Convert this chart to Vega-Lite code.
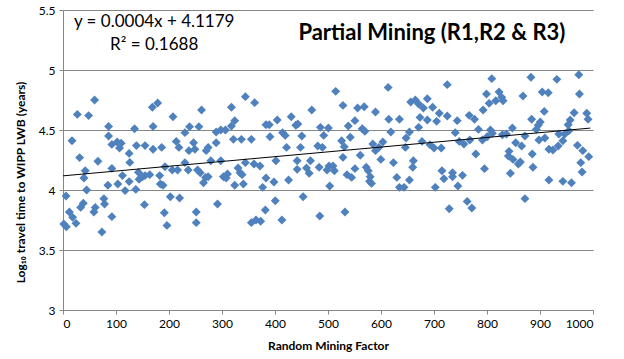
{
  "$schema": "https://vega.github.io/schema/vega-lite/v6.json",
  "width": 530,
  "height": 300,
  "autosize": {"type": "none"},
  "padding": {"left": 63, "top": 10, "right": 31, "bottom": 49},
  "background": "white",
  "config": {"view": {"stroke": null}, "font": "Lato"},
  "layer": [
    {
      "data": {"values": [
        {"x":59.6,"y":4.75},{"x":27,"y":4.63},{"x":48.3,"y":4.62},{"x":17,"y":4.41},{"x":86,"y":4.53},{"x":86,"y":4.45},{"x":135,"y":4.51},{"x":170,"y":4.53},{"x":168.6,"y":4.69},{"x":178.6,"y":4.725},{"x":207.5,"y":4.61},{"x":31.4,"y":4.27},{"x":65.9,"y":4.24},{"x":92.2,"y":4.38},{"x":102.2,"y":4.40},{"x":109.7,"y":4.39},{"x":106.6,"y":4.35},{"x":124.8,"y":4.305},{"x":126,"y":4.23},{"x":138.5,"y":4.37},{"x":154.8,"y":4.37},{"x":169.9,"y":4.34},{"x":186.2,"y":4.355},{"x":213.7,"y":4.405},{"x":218.7,"y":4.355},{"x":42,"y":4.16},{"x":39.5,"y":4.10},{"x":92.2,"y":4.18},{"x":112.2,"y":4.12},{"x":103.5,"y":4.05},{"x":84.7,"y":4.04},{"x":117.2,"y":3.995},{"x":124.8,"y":4.07},{"x":137.3,"y":4.005},{"x":143.6,"y":4.09},{"x":142.3,"y":4.147},{"x":149.8,"y":4.11},{"x":154.8,"y":4.12},{"x":163.6,"y":4.128},{"x":182.4,"y":4.12},{"x":183.7,"y":4.05},{"x":188.7,"y":4.04},{"x":192.4,"y":4.194},{"x":206.2,"y":4.166},{"x":216.2,"y":4.166},{"x":5.7,"y":3.95},{"x":44.6,"y":4.0},{"x":77.1,"y":3.928},{"x":78.4,"y":3.883},{"x":38.3,"y":3.89},{"x":33.3,"y":3.855},{"x":60.8,"y":3.855},{"x":58.3,"y":3.817},{"x":12,"y":3.817},{"x":18.2,"y":3.772},{"x":24.5,"y":3.722},{"x":1.5,"y":3.717},{"x":6.3,"y":3.694},{"x":92.2,"y":3.778},{"x":73.4,"y":3.65},{"x":153.6,"y":3.878},{"x":191.2,"y":3.811},{"x":196.2,"y":3.705},{"x":202.5,"y":3.944},{"x":220,"y":3.933},
        {"x":344.1,"y":4.778},{"x":361.6,"y":4.728},{"x":261.4,"y":4.667},{"x":317.8,"y":4.689},{"x":238.8,"y":4.528},{"x":256.4,"y":4.528},{"x":289,"y":4.483},{"x":297.7,"y":4.50},{"x":306.5,"y":4.50},{"x":317.8,"y":4.533},{"x":324,"y":4.578},{"x":321.5,"y":4.422},{"x":336.6,"y":4.422},{"x":355.4,"y":4.422},{"x":390.5,"y":4.444},{"x":383,"y":4.544},{"x":389.2,"y":4.544},{"x":404.2,"y":4.583},{"x":414.3,"y":4.478},{"x":419.3,"y":4.455},{"x":430.6,"y":4.611},{"x":439.3,"y":4.539},{"x":443.1,"y":4.55},{"x":450.6,"y":4.45},{"x":469.4,"y":4.667},{"x":485.7,"y":4.522},{"x":230,"y":4.478},{"x":237.6,"y":4.328},{"x":246.3,"y":4.394},{"x":248.9,"y":4.339},{"x":273.9,"y":4.355},{"x":270.2,"y":4.328},{"x":289,"y":4.394},{"x":421.8,"y":4.355},{"x":448.1,"y":4.355},{"x":480.7,"y":4.366},{"x":489.5,"y":4.355},{"x":230,"y":4.228},{"x":236.3,"y":4.166},{"x":253.9,"y":4.166},{"x":258.9,"y":4.144},{"x":268.9,"y":4.105},{"x":273.9,"y":4.111},{"x":265.1,"y":4.061},{"x":278.9,"y":4.244},{"x":297.7,"y":4.244},{"x":302.7,"y":4.111},{"x":310.3,"y":4.133},{"x":307.8,"y":4.10},{"x":330.3,"y":4.183},{"x":334.1,"y":4.144},{"x":337.8,"y":4.128},{"x":344.1,"y":4.228},{"x":360.4,"y":4.217},{"x":371.7,"y":4.20},{"x":401.7,"y":4.244},{"x":383,"y":4.10},{"x":376.7,"y":4.022},{"x":324,"y":4.039},{"x":340.3,"y":4.05},{"x":398,"y":4.066},{"x":425.6,"y":4.083},{"x":441.8,"y":4.244},{"x":441.8,"y":4.172},{"x":459.4,"y":4.183},{"x":464.4,"y":4.139},{"x":466.9,"y":4.244},{"x":483.2,"y":4.189},{"x":291.5,"y":3.883},{"x":251.4,"y":3.817},{"x":251.4,"y":3.728},{"x":355.4,"y":3.728},{"x":364.1,"y":3.75},{"x":372.9,"y":3.739},{"x":381.7,"y":3.833},{"x":400.5,"y":3.911},{"x":413,"y":3.75},{"x":453.1,"y":3.944},{"x":484.5,"y":3.783},
        {"x":514.5,"y":4.822},{"x":528.2,"y":4.705},{"x":555.8,"y":4.683},{"x":568.3,"y":4.694},{"x":589.6,"y":4.65},{"x":613.5,"y":4.855},{"x":614.7,"y":4.589},{"x":634.8,"y":4.589},{"x":618.5,"y":4.483},{"x":656.1,"y":4.733},{"x":664.8,"y":4.75},{"x":671.1,"y":4.717},{"x":679.9,"y":4.683},{"x":687.4,"y":4.761},{"x":697.4,"y":4.689},{"x":673.6,"y":4.605},{"x":687.4,"y":4.583},{"x":704.9,"y":4.572},{"x":709.9,"y":4.639},{"x":725,"y":4.616},{"x":725,"y":4.878},{"x":671.1,"y":4.522},{"x":500.7,"y":4.516},{"x":491.9,"y":4.455},{"x":538.3,"y":4.533},{"x":550.8,"y":4.578},{"x":542,"y":4.439},{"x":564.6,"y":4.511},{"x":569.6,"y":4.489},{"x":525.7,"y":4.411},{"x":530.7,"y":4.361},{"x":584.6,"y":4.383},{"x":603.4,"y":4.40},{"x":595.9,"y":4.355},{"x":589.6,"y":4.328},{"x":653.6,"y":4.483},{"x":647.3,"y":4.433},{"x":646,"y":4.355},{"x":677.4,"y":4.405},{"x":692.4,"y":4.378},{"x":700,"y":4.35},{"x":713.7,"y":4.35},{"x":560.8,"y":4.289},{"x":528.2,"y":4.272},{"x":599.7,"y":4.255},{"x":623.5,"y":4.228},{"x":661.1,"y":4.244},{"x":659.8,"y":4.189},{"x":550.8,"y":4.178},{"x":572.1,"y":4.189},{"x":575.9,"y":4.161},{"x":579.6,"y":4.111},{"x":578.4,"y":4.072},{"x":582.1,"y":4.055},{"x":501.9,"y":4.20},{"x":509.4,"y":4.20},{"x":512,"y":4.161},{"x":498.2,"y":4.166},{"x":535.8,"y":4.128},{"x":544.5,"y":4.105},{"x":629.8,"y":4.105},{"x":634.8,"y":4.022},{"x":643.5,"y":4.022},{"x":653.6,"y":4.083},{"x":715,"y":4.161},{"x":718.7,"y":4.094},{"x":702.4,"y":4.022},{"x":503.2,"y":4.033},{"x":532,"y":3.817},{"x":728.7,"y":3.844},
        {"x":809,"y":4.928},{"x":882.9,"y":4.939},{"x":931.8,"y":4.922},{"x":973.2,"y":4.961},{"x":799,"y":4.80},{"x":822.8,"y":4.817},{"x":827.8,"y":4.772},{"x":816.5,"y":4.744},{"x":830.3,"y":4.744},{"x":804,"y":4.722},{"x":867.9,"y":4.783},{"x":904.2,"y":4.817},{"x":915.5,"y":4.811},{"x":974.4,"y":4.80},{"x":792.7,"y":4.667},{"x":908,"y":4.655},{"x":743.8,"y":4.578},{"x":766.4,"y":4.622},{"x":776.4,"y":4.589},{"x":884.2,"y":4.589},{"x":900.5,"y":4.567},{"x":896.7,"y":4.539},{"x":956.9,"y":4.583},{"x":953.1,"y":4.544},{"x":964.4,"y":4.644},{"x":988.2,"y":4.639},{"x":990.7,"y":4.589},{"x":740.1,"y":4.478},{"x":783.9,"y":4.505},{"x":806.5,"y":4.50},{"x":810.2,"y":4.472},{"x":829,"y":4.461},{"x":836.6,"y":4.466},{"x":847.8,"y":4.516},{"x":893,"y":4.505},{"x":871.6,"y":4.45},{"x":935.6,"y":4.466},{"x":946.8,"y":4.466},{"x":954.4,"y":4.494},{"x":747.6,"y":4.405},{"x":756.4,"y":4.383},{"x":767.6,"y":4.416},{"x":791.4,"y":4.416},{"x":800.2,"y":4.444},{"x":854.1,"y":4.394},{"x":865.4,"y":4.366},{"x":898,"y":4.416},{"x":909.2,"y":4.433},{"x":943.1,"y":4.411},{"x":934.3,"y":4.366},{"x":916.8,"y":4.339},{"x":924.3,"y":4.333},{"x":778.9,"y":4.30},{"x":841.6,"y":4.322},{"x":840.3,"y":4.283},{"x":849.1,"y":4.255},{"x":862.9,"y":4.233},{"x":859.1,"y":4.216},{"x":885.4,"y":4.30},{"x":970.6,"y":4.372},{"x":980.7,"y":4.328},{"x":992,"y":4.278},{"x":795.2,"y":4.178},{"x":886.7,"y":4.189},{"x":976.9,"y":4.228},{"x":979.4,"y":4.15},{"x":735,"y":4.144},{"x":735,"y":4.111},{"x":753.8,"y":4.122},{"x":844.1,"y":4.139},{"x":916.8,"y":4.083},{"x":943.1,"y":4.072},{"x":959.4,"y":4.061},{"x":745.1,"y":4.033},{"x":762.6,"y":3.905},{"x":771.4,"y":3.85},{"x":871.6,"y":3.928}
      ]},
      "mark": {"type": "point", "shape": "diamond", "filled": true, "size": 80, "color": "#4F81BD", "opacity": 1},
      "encoding": {
        "x": {"field": "x", "type": "quantitative", "scale": {"domain": [0, 1000], "nice": false},
          "axis": {"title": "Random Mining Factor", "titleFontSize": 12, "titleFontWeight": "bold", "titleColor": "#000", "titlePadding": 11,
            "values": [0,50,100,150,200,250,300,350,400,450,500,550,600,650,700,750,800,850,900,950,1000],
            "labelExpr": "datum.value % 100 == 0 ? '' + datum.value : ''",
            "grid": false, "domainColor": "#868686", "tickColor": "#868686", "tickSize": 4, "labelFontSize": 12, "labelColor": "#000", "labelPadding": 4}},
        "y": {"field": "y", "type": "quantitative", "scale": {"domain": [3, 5.5], "nice": false, "zero": false},
          "axis": {"title": "Log₁₀ travel time to WIPP LWB (years)", "titleFontSize": 12, "titleFontWeight": "bold", "titleColor": "#000", "titlePadding": 11, "titleY": 172,
            "values": [3, 3.5, 4, 4.5, 5, 5.5], "labelExpr": "'' + datum.value",
            "grid": true, "gridColor": "#868686", "domainColor": "#868686", "tickColor": "#868686", "tickSize": 4, "labelFontSize": 12, "labelColor": "#000", "labelPadding": 4}}
      }
    },
    {
      "data": {"values": [{"x": 0, "y": 4.1179}, {"x": 995, "y": 4.5159}]},
      "mark": {"type": "line", "color": "#000", "strokeWidth": 1},
      "encoding": {
        "x": {"field": "x", "type": "quantitative"},
        "y": {"field": "y", "type": "quantitative"}
      }
    },
    {
      "data": {"values": [
        {"x": 172, "y": 5.40, "label": "y = 0.0004x + 4.1179"},
        {"x": 172, "y": 5.21, "label": "R² = 0.1688"}
      ]},
      "mark": {"type": "text", "fontSize": 17, "color": "#000", "align": "center", "baseline": "middle"},
      "encoding": {
        "x": {"field": "x", "type": "quantitative"},
        "y": {"field": "y", "type": "quantitative"},
        "text": {"field": "label"}
      }
    },
    {
      "data": {"values": [{"x": 696, "y": 5.31, "label": "Partial Mining (R1,R2 & R3)"}]},
      "mark": {"type": "text", "fontSize": 22, "fontWeight": "bold", "color": "#000", "align": "center", "baseline": "middle"},
      "encoding": {
        "x": {"field": "x", "type": "quantitative"},
        "y": {"field": "y", "type": "quantitative"},
        "text": {"field": "label"}
      }
    }
  ]
}
